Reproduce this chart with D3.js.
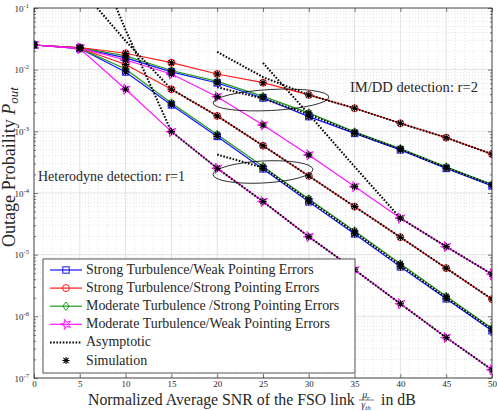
<!DOCTYPE html>
<html><head><meta charset="utf-8">
<script src="https://cdn.jsdelivr.net/npm/d3@7"></script>
<style>body{margin:0;background:#fff}svg{display:block}text{font-family:"Liberation Serif","Times New Roman",serif;fill:#262626}</style>
</head><body><svg id="chart" width="497" height="411"></svg>
<script>
// ---------- data ----------
const snrDb = [0,5,10,15,20,25,30,35,40,45,50];
const xTicks = [0,5,10,15,20,25,30,35,40,45,50];
const yTickExps = [-1,-2,-3,-4,-5,-6,-7];
const legendLabels = ["Strong Turbulence/Weak Pointing Errors","Strong Turbulence/Strong Pointing Errors","Moderate Turbulence /Strong Pointing Errors","Moderate Turbulence/Weak Pointing Errors","Asymptotic","Simulation"];
// IM/DD detection r=2
const imddStrongWeak   = [0.0251,0.0226,0.0155,0.0092,0.00608,0.00347,0.00173,0.000925,0.0005,0.00025,0.00013];
const imddStrongStrong = [0.0251,0.0229,0.01846,0.01298,0.00851,0.00615,0.00389,0.00237,0.00135,0.00079,0.000426];
const imddModStrong    = [0.0251,0.0228,0.0167,0.0097,0.00644,0.00368,0.00199,0.00098,0.000528,0.000265,0.000138];
const imddModWeak      = [0.0251,0.0224,0.01436,0.00851,0.00365,0.00127,0.000415,0.000127,3.91e-5,1.35e-5,4.83e-6];
// Heterodyne detection r=1
const hetStrongWeak   = [0.0251,0.0220,0.00918,0.00268,0.000826,0.000246,7.18e-5,2.17e-5,6.34e-6,1.92e-6,5.82e-7];
const hetStrongStrong = [0.0251,0.0222,0.01214,0.00481,0.00178,0.000586,0.000189,6.02e-5,1.92e-5,6.04e-6,1.9e-6];
const hetModStrong    = [0.0251,0.0221,0.01026,0.00288,0.00089,0.00027,8.02e-5,2.43e-5,7.1e-6,2.11e-6,6.4e-7];
const hetModWeak      = [0.0251,0.0219,0.00481,0.000989,0.000252,7.26e-5,1.96e-5,5.68e-6,1.6e-6,4.53e-7,1.36e-7];
// asymptotic curves
const asymHetStrongX = [6.9,10,15,20,25,30,35,40,45,50];
const asymHetStrongY = [0.1,0.0292,0.00481,0.00178,0.000586,0.000189,6.02e-5,1.92e-5,6.04e-6,1.9e-6];
const asymHetModWeakX = [9.0,10,15,20,25,30,35,40,45,50];
const asymHetModWeakY = [0.1,0.044,0.000989,0.000252,7.26e-5,1.96e-5,5.68e-6,1.6e-6,4.53e-7,1.36e-7];
const asymHetMidX = [20,25,30,35,40,45,50];
const asymHetMidY = [0.00042,0.000258,7.6e-5,2.3e-5,6.7e-6,2.0e-6,6.1e-7];
const asymImddModWeakX = [25,30,35,40,45,50];
const asymImddModWeakY = [0.0129,0.00189,0.000267,3.91e-5,1.35e-5,4.83e-6];
const asymImddStrongX = [20,25,30,35,40,45,50];
const asymImddStrongY = [0.0194,0.0076,0.00389,0.00237,0.00135,0.00079,0.000426];
const asymImddMidX = [20,25,30,35,40,45,50];
const asymImddMidY = [0.0052,0.0034,0.00188,0.00095,0.00051,0.000258,0.000134];
// annotations
const annoImdd = "IM/DD detection: r=2";
const annoHet = "Heterodyne detection: r=1";

// ---------- chart ----------
const svg = d3.select("#chart");
const L=34,R=492,T=8,B=378;
const x = d3.scaleLinear().domain([0,50]).range([L,R]);
const y = d3.scaleLog().domain([1e-7,1e-1]).range([B,T]);
const colors = {blue:"#1414ff",red:"#ff1a1a",green:"#1f991f",magenta:"#ff14ff"};

svg.append("rect").attr("x",L).attr("y",T).attr("width",R-L).attr("height",B-T).attr("fill","#fff");
const grid = svg.append("g");
for(let d=1; d<50; d++){ if(d%5===0) continue;
  grid.append("line").attr("x1",x(d)).attr("x2",x(d)).attr("y1",T).attr("y2",B)
   .attr("stroke","#d4d4d4").attr("stroke-width",0.6).attr("stroke-dasharray","1,2");}
for(let e=-7;e<-1;e++){ for(let m=2;m<=9;m++){ const v=m*Math.pow(10,e);
  grid.append("line").attr("x1",L).attr("x2",R).attr("y1",y(v)).attr("y2",y(v))
   .attr("stroke","#d4d4d4").attr("stroke-width",0.6).attr("stroke-dasharray","1,2");}}
xTicks.forEach(d=>grid.append("line").attr("x1",x(d)).attr("x2",x(d)).attr("y1",T).attr("y2",B).attr("stroke","#dcdcdc").attr("stroke-width",0.8));
yTickExps.forEach(e=>grid.append("line").attr("x1",L).attr("x2",R).attr("y1",y(Math.pow(10,e))).attr("y2",y(Math.pow(10,e))).attr("stroke","#dcdcdc").attr("stroke-width",0.8));

const gx = svg.append("g").attr("transform",`translate(0,${B})`).call(d3.axisBottom(x).tickValues(xTicks).tickSize(-4).tickPadding(3).tickFormat(d3.format("d")));
const gxT = svg.append("g").attr("transform",`translate(0,${T})`).call(d3.axisTop(x).tickValues(xTicks).tickSize(-4).tickFormat(""));
const gy = svg.append("g").attr("transform",`translate(${L},0)`).call(d3.axisLeft(y).tickValues(yTickExps.map(e=>Math.pow(10,e))).tickSize(-4).tickFormat(""));
const gyR = svg.append("g").attr("transform",`translate(${R},0)`).call(d3.axisRight(y).tickValues(yTickExps.map(e=>Math.pow(10,e))).tickSize(-4).tickFormat(""));
const minorVals=[]; for(let e=-7;e<-1;e++){for(let m=2;m<=9;m++) minorVals.push(m*Math.pow(10,e));}
const gm1=svg.append("g").attr("transform",`translate(${L},0)`).call(d3.axisLeft(y).tickValues(minorVals).tickSize(-2).tickFormat(""));
const gm2=svg.append("g").attr("transform",`translate(${R},0)`).call(d3.axisRight(y).tickValues(minorVals).tickSize(-2).tickFormat(""));
[gx,gxT,gy,gyR,gm1,gm2].forEach(g=>{g.select(".domain").remove();});
[gxT,gy,gyR,gm1,gm2].forEach(g=>g.selectAll("text").remove());
svg.selectAll(".tick line").attr("stroke","#262626").attr("stroke-width",0.6);
gx.selectAll("text").attr("font-size",9).attr("fill","#262626").attr("font-family","Liberation Serif");
yTickExps.forEach(e=>{
  const t=svg.append("text").attr("x",L-5).attr("y",y(Math.pow(10,e))+3.5).attr("text-anchor","end").attr("font-size",9);
  t.append("tspan").text("10");
  t.append("tspan").attr("dy",-4).attr("font-size",6.5).text("-"+(-e));
});

svg.append("clipPath").attr("id","clip").append("rect").attr("x",L).attr("y",T).attr("width",R-L).attr("height",B-T);
const plot = svg.append("g").attr("clip-path","url(#clip)");

const series = [
 {vals:imddStrongWeak,c:"blue",m:"square"},
 {vals:hetStrongWeak,c:"blue",m:"square"},
 {vals:imddModStrong,c:"green",m:"diamond"},
 {vals:hetModStrong,c:"green",m:"diamond"},
 {vals:imddStrongStrong,c:"red",m:"circle"},
 {vals:hetStrongStrong,c:"red",m:"circle"},
 {vals:imddModWeak,c:"magenta",m:"hex"},
 {vals:hetModWeak,c:"magenta",m:"hex"}
];
const line = d3.line().x(d=>x(d[0])).y(d=>y(d[1]));
const asyms = [[asymHetStrongX,asymHetStrongY],[asymHetModWeakX,asymHetModWeakY],[asymHetMidX,asymHetMidY],[asymImddModWeakX,asymImddModWeakY],[asymImddStrongX,asymImddStrongY],[asymImddMidX,asymImddMidY]];

series.forEach(s=>{
  plot.append("path").datum(snrDb.map((d,i)=>[d,s.vals[i]])).attr("d",line).attr("fill","none").attr("stroke",colors[s.c]).attr("stroke-width",1.2);
});
asyms.forEach(a=>{
  plot.append("path").datum(a[0].map((d,i)=>[d,a[1][i]])).attr("d",line).attr("fill","none").attr("stroke","#000").attr("stroke-width",2).attr("stroke-dasharray","1.6,1.6");
});
function marker(g,type,cx,cy,col){
  const s=3.2;
  if(type==="square") g.append("rect").attr("x",cx-s).attr("y",cy-s).attr("width",2*s).attr("height",2*s).attr("fill","none").attr("stroke",col).attr("stroke-width",1);
  else if(type==="circle") g.append("circle").attr("cx",cx).attr("cy",cy).attr("r",s+0.3).attr("fill","none").attr("stroke",col).attr("stroke-width",1);
  else if(type==="diamond") g.append("path").attr("d",`M${cx},${cy-s-1}L${cx+s},${cy}L${cx},${cy+s+1}L${cx-s},${cy}Z`).attr("fill","none").attr("stroke",col).attr("stroke-width",1);
  else if(type==="hex") g.append("path").attr("d",d3.symbol(d3.symbolStar,34)()).attr("transform",`translate(${cx},${cy}) rotate(-90)`).attr("fill","none").attr("stroke",col).attr("stroke-width",1);
}
function asterisk(g,cx,cy){
  const r=3.6, d=r*0.72;
  g.append("path").attr("d",`M${cx-r},${cy}L${cx+r},${cy}M${cx},${cy-r}L${cx},${cy+r}M${cx-d},${cy-d}L${cx+d},${cy+d}M${cx-d},${cy+d}L${cx+d},${cy-d}`).attr("stroke","#000").attr("stroke-width",1.1);
}
series.forEach(s=>{ snrDb.forEach((d,i)=>marker(plot,s.m,x(d),y(s.vals[i]),colors[s.c])); });
series.forEach(s=>{ snrDb.forEach((d,i)=>asterisk(plot,x(d),y(s.vals[i]))); });

plot.append("ellipse").attr("cx",271).attr("cy",100).attr("rx",58).attr("ry",10.5).attr("transform","rotate(-3,271,100)").attr("fill","none").attr("stroke","#000").attr("stroke-width",0.8);
plot.append("ellipse").attr("cx",263).attr("cy",172).attr("rx",50).attr("ry",11).attr("transform","rotate(-3,263,172)").attr("fill","none").attr("stroke","#000").attr("stroke-width",0.8);

svg.append("rect").attr("x",L).attr("y",T).attr("width",R-L).attr("height",B-T).attr("fill","none").attr("stroke","#262626").attr("stroke-width",0.8);

function fit(t,w){const cur=t.node().getComputedTextLength();const fs=+t.attr("font-size");t.attr("font-size",fs*w/cur);}
const a1=svg.append("text").attr("x",350).attr("y",92).attr("font-size",12).text(annoImdd); fit(a1,128);
const a2=svg.append("text").attr("x",38).attr("y",181).attr("font-size",12).text(annoHet); fit(a2,147);

const lg = svg.append("g");
lg.append("rect").attr("x",43).attr("y",259).attr("width",312).attr("height",114).attr("fill","#fff").attr("stroke","#262626").attr("stroke-width",0.8);
const legSpec=[{c:"blue",m:"square"},{c:"red",m:"circle"},{c:"green",m:"diamond"},{c:"magenta",m:"hex"},{dot:true},{sim:true}];
let legFs=11;
legSpec.forEach((s,i)=>{
  const yy=270+i*18.1;
  if(s.c){ lg.append("line").attr("x1",50).attr("x2",82).attr("y1",yy).attr("y2",yy).attr("stroke",colors[s.c]).attr("stroke-width",1.2); marker(lg,s.m,66,yy,colors[s.c]); }
  if(s.dot) lg.append("line").attr("x1",50).attr("x2",82).attr("y1",yy).attr("y2",yy).attr("stroke","#000").attr("stroke-width",2).attr("stroke-dasharray","1.6,1.6");
  if(s.sim) asterisk(lg,66,yy);
  const t=lg.append("text").attr("x",86).attr("y",yy+4).attr("font-size",legFs).text(legendLabels[i]);
  if(i===0){ fit(t,228); legFs=+t.attr("font-size"); }
});

const xl = svg.append("text").attr("x",88).attr("y",405).attr("font-size",14).text("Normalized Average SNR of the FSO link");
fit(xl,267);
const fsx=+xl.attr("font-size");
const fr = svg.append("g");
fr.append("text").attr("x",366).attr("y",398).attr("text-anchor","middle").attr("font-size",fsx*0.62).attr("font-style","italic").html('μ<tspan font-size="'+(fsx*0.45)+'" dy="1.5">r</tspan>');
fr.append("line").attr("x1",359).attr("x2",374).attr("y1",400).attr("y2",400).attr("stroke","#262626").attr("stroke-width",0.6);
fr.append("text").attr("x",366).attr("y",408).attr("text-anchor","middle").attr("font-size",fsx*0.62).attr("font-style","italic").html('γ<tspan font-size="'+(fsx*0.45)+'" dy="1.5">th</tspan>');
svg.append("text").attr("x",381).attr("y",405).attr("font-size",fsx).text("in dB");

const yl = svg.append("text").attr("transform","translate(15,247) rotate(-90)").attr("font-size",14);
yl.append("tspan").text("Outage Probaility ");
yl.append("tspan").attr("font-style","italic").text("P");
yl.append("tspan").attr("font-style","italic").attr("font-size",10).attr("dy",3).text("out");
{ const w=yl.node().getComputedTextLength(); const k=160/w; yl.attr("font-size",14*k); yl.select("tspan:last-child").attr("font-size",10*k); }
</script></body></html>
